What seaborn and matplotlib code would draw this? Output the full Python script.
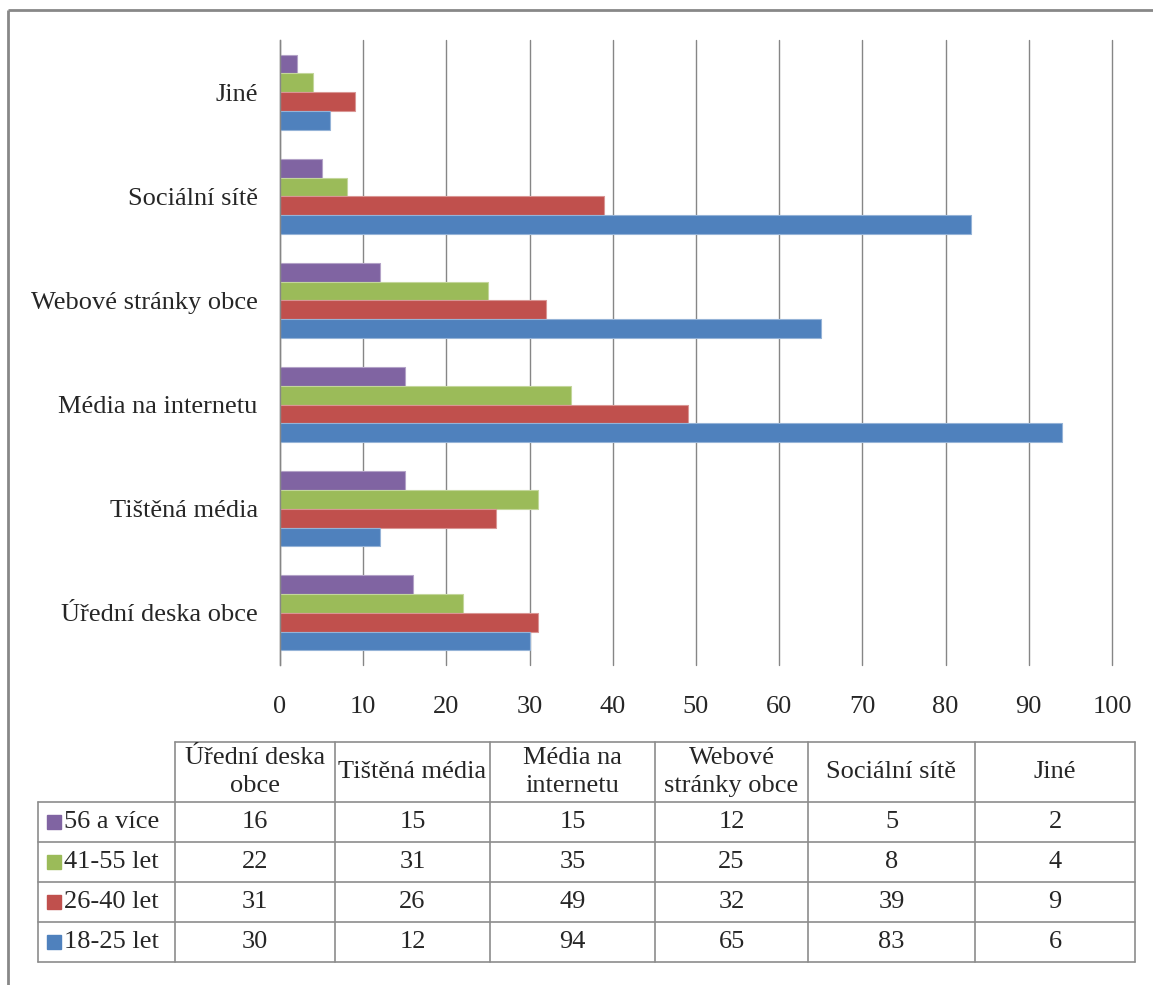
import numpy as np
import pandas as pd
import matplotlib
matplotlib.use("Agg")
import matplotlib.pyplot as plt
from matplotlib.patches import Rectangle
import seaborn as sns

# ---- data ----
categories = ["Úřední deska obce", "Tištěná média", "Média na internetu",
              "Webové stránky obce", "Sociální sítě", "Jiné"]
table_headers = ["Úřední deska\nobce", "Tištěná média", "Média na\ninternetu",
                 "Webové\nstránky obce", "Sociální sítě", "Jiné"]
series_names = ["56 a více", "41-55 let", "26-40 let", "18-25 let"]
v56 = [16, 15, 15, 12, 5, 2]
v41 = [22, 31, 35, 25, 8, 4]
v26 = [31, 26, 49, 32, 39, 9]
v18 = [30, 12, 94, 65, 83, 6]
series_values = [v56, v41, v26, v18]
colors = ["#8064A2", "#9BBB59", "#C0504D", "#4F81BD"]
x_ticks = list(range(0, 101, 10))

sns.set_style("white")
plt.rcParams["font.family"] = ["Liberation Serif", "DejaVu Serif"]

rows = []
for name, vals in zip(series_names, series_values):
    for c, v in zip(categories, vals):
        rows.append({"cat": c, "series": name, "value": v})
df = pd.DataFrame(rows)

W, H = 1153, 985
fig = plt.figure(figsize=(W / 100, H / 100), dpi=100)
fig.patch.set_facecolor("white")

def px(x0, y0, x1, y1):
    return [x0 / W, 1 - y1 / H, (x1 - x0) / W, (y1 - y0) / H]

fs = 19

ax = fig.add_axes(px(280, 40, 1112, 665))
sns.barplot(data=df, y="cat", x="value", hue="series", orient="h",
            order=categories[::-1], hue_order=series_names,
            palette=dict(zip(series_names, colors)), width=0.72,
            saturation=1, legend=False, ax=ax, linewidth=0.8,
            edgecolor="white")
for p in ax.patches:
    fc = p.get_facecolor()
    p.set_edgecolor(tuple(min(1, c * 0.6 + 0.4) for c in fc[:3]))
ax.set_xlim(0, 100)
ax.set_xticks(x_ticks)
ax.set_xlabel("")
ax.set_ylabel("")
ax.grid(axis="x", color="#868686", linewidth=1)
for gl in ax.get_xgridlines():
    gl.set_clip_on(False)
ax.set_axisbelow(True)
for s in ["top", "right", "bottom"]:
    ax.spines[s].set_visible(False)
ax.spines["left"].set_color("#868686")
ax.spines["left"].set_linewidth(1)
ax.tick_params(axis="x", length=0, pad=22, labelsize=fs)
ax.tick_params(axis="y", length=0, pad=16, labelsize=fs)

# ---- data table + frame ----
tax = fig.add_axes([0, 0, 1, 1], zorder=5)
tax.set_xlim(0, W)
tax.set_ylim(H, 0)
tax.axis("off")
tax.patch.set_alpha(0)

lc = "#8c8c8c"
# outer frame (top and left visible)
tax.plot([8, W + 5], [10, 10], color="#888888", lw=2, solid_capstyle="butt")
tax.plot([8, 8], [10, H + 5], color="#888888", lw=2, solid_capstyle="butt")

col_b = [38, 175, 335, 490, 655, 808, 975, 1135]
row_b = [742, 802, 842, 882, 922, 962]
# horizontal lines
tax.plot([col_b[1], col_b[-1]], [row_b[0]] * 2, color=lc, lw=1.2)
for y in row_b[1:]:
    tax.plot([col_b[0], col_b[-1]], [y, y], color=lc, lw=1.2)
# vertical lines
tax.plot([col_b[0]] * 2, [row_b[1], row_b[-1]], color=lc, lw=1.2)
for x in col_b[1:]:
    tax.plot([x, x], [row_b[0], row_b[-1]], color=lc, lw=1.2)

for j, h in enumerate(table_headers):
    xc = (col_b[j + 1] + col_b[j + 2]) / 2
    tax.text(xc, (row_b[0] + row_b[1]) / 2, h, ha="center", va="center",
             fontsize=fs, linespacing=1.4)
for i, (name, vals, col) in enumerate(zip(series_names, series_values, colors)):
    yc = (row_b[i + 1] + row_b[i + 2]) / 2
    tax.add_patch(Rectangle((47, yc - 7), 14, 14, color=col))
    tax.text(64, yc, name, ha="left", va="center", fontsize=fs)
    for j, v in enumerate(vals):
        xc = (col_b[j + 1] + col_b[j + 2]) / 2
        tax.text(xc, yc, str(v), ha="center", va="center", fontsize=fs)

fig.savefig("out.png", dpi=100)
